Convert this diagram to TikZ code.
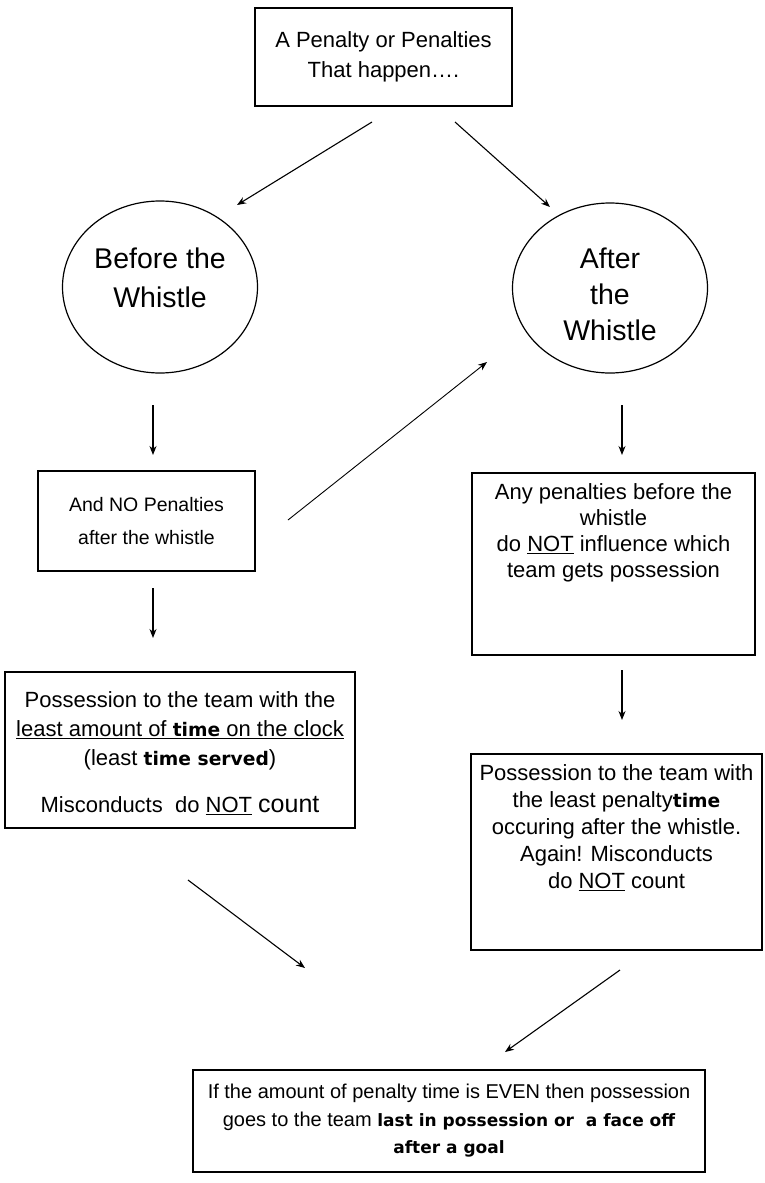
\documentclass[tikz,border=0pt]{standalone}
\usepackage{fontspec}
\setmainfont{Liberation Sans}
\newfontfamily\comicfont[Scale=0.85]{DejaVu Sans}
\usetikzlibrary{shapes.geometric,arrows.meta}

\newcommand{\cb}[1]{{\comicfont\bfseries #1}}

\tikzset{
  box/.style={draw, line width=1.4pt, inner sep=0pt},
  oval/.style={draw, ellipse, line width=1.2pt, inner sep=0pt},
  txt/.style={align=center, inner sep=0pt, font=\fontsize{22}{27}\selectfont},
  ovaltxt/.style={align=center, inner sep=0pt, font=\fontsize{28.5}{37}\selectfont},
}

\begin{document}
\begin{tikzpicture}[x=1pt,y=-1pt]

  \fill[white] (0,0) rectangle (765,1183);
  \useasboundingbox (0,0) rectangle (765,1183);

  % top and the two ovals
  \node[box, txt, minimum width=257, minimum height=98,
    font=\fontsize{22}{30}\selectfont] (penalty) at (383.5,57)
    {A Penalty or Penalties\\That happen….};
  \node[oval, minimum width=195, minimum height=172] (before) at (160,287) {};
  \node[ovaltxt, font=\fontsize{28.5}{39}\selectfont] (beforetxt)
    at ([yshift=9pt]before.center) {Before the\\Whistle};
  \node[oval, minimum width=195, minimum height=170] (after) at (610,288) {};
  \node[ovaltxt, font=\fontsize{28.5}{36}\selectfont] (aftertxt)
    at ([yshift=-6pt]after.center) {After\\the\\Whistle};

  % left column
  \node[box, txt, minimum width=217, minimum height=100,
    font=\fontsize{19.5}{33}\selectfont] (nopen) at (146.5,521)
    {And NO Penalties\\after the whistle};
  \node[box, minimum width=350, minimum height=156] (leastclock) at (180,750) {};
  \node[txt, font=\fontsize{22}{29}\selectfont, anchor=north] (clocktxt)
    at ([yshift=-20pt]leastclock.north)
    {Possession to the team with the\\
     \underline{least amount of \cb{time} on the clock}\\
     (least \cb{time served})\\[18pt]
     Misconducts\ \ do \underline{NOT} {\fontsize{25}{29}\selectfont count}};

  % right column
  \node[box, minimum width=283, minimum height=182] (anypen) at (613.5,564) {};
  \node[txt, font=\fontsize{22}{26}\selectfont, anchor=north] (anytxt)
    at ([yshift=-11pt]anypen.north)
    {Any penalties before the\\whistle\\do \underline{NOT} influence which\\team gets possession};
  \node[box, minimum width=291, minimum height=196] (leastpen) at (616.5,852) {};
  \node[txt, font=\fontsize{22}{27}\selectfont, anchor=north] (leasttxt)
    at ([yshift=-11pt]leastpen.north)
    {Possession to the team with\\the least penalty\cb{time}\\occuring after the whistle.\\
     Again! Misconducts\\do \underline{NOT} count};

  % bottom
  \node[box, txt, minimum width=512, minimum height=102,
    font=\fontsize{20}{27.5}\selectfont] (even) at (449,1121)
    {If the amount of penalty time is EVEN then possession\\
     goes to the team \cb{last in possession or\ \ a face off}\\
     \cb{after a goal}};

  % arrow ends
  \coordinate (s1) at (372,122);  \coordinate (e1) at (237,205);
  \coordinate (s2) at (455,122);  \coordinate (e2) at (550,207);
  \coordinate (s3) at (153,405);  \coordinate (e3) at (153,455);
  \coordinate (s4) at (622,405);  \coordinate (e4) at (622,455);
  \coordinate (s5) at (288,520);  \coordinate (e5) at (487,362);
  \coordinate (s6) at (153,588);  \coordinate (e6) at (153,638);
  \coordinate (s7) at (622,670);  \coordinate (e7) at (622,720);
  \coordinate (s8) at (188,880);  \coordinate (e8) at (305,968);
  \coordinate (s9) at (620,970);  \coordinate (e9) at (505,1052);

  \begin{scope}[every edge/.style={draw, line width=1.1pt,
      -{Stealth[length=9pt,width=7pt]}}]
    \path (s1) edge (e1);
    \path (s2) edge (e2);
    \path (s3) edge (e3);
    \path (s4) edge (e4);
    \path (s5) edge[line width=0.9pt] (e5);
    \path (s6) edge (e6);
    \path (s7) edge (e7);
    \path (s8) edge (e8);
    \path (s9) edge (e9);
  \end{scope}

\end{tikzpicture}
\end{document}
